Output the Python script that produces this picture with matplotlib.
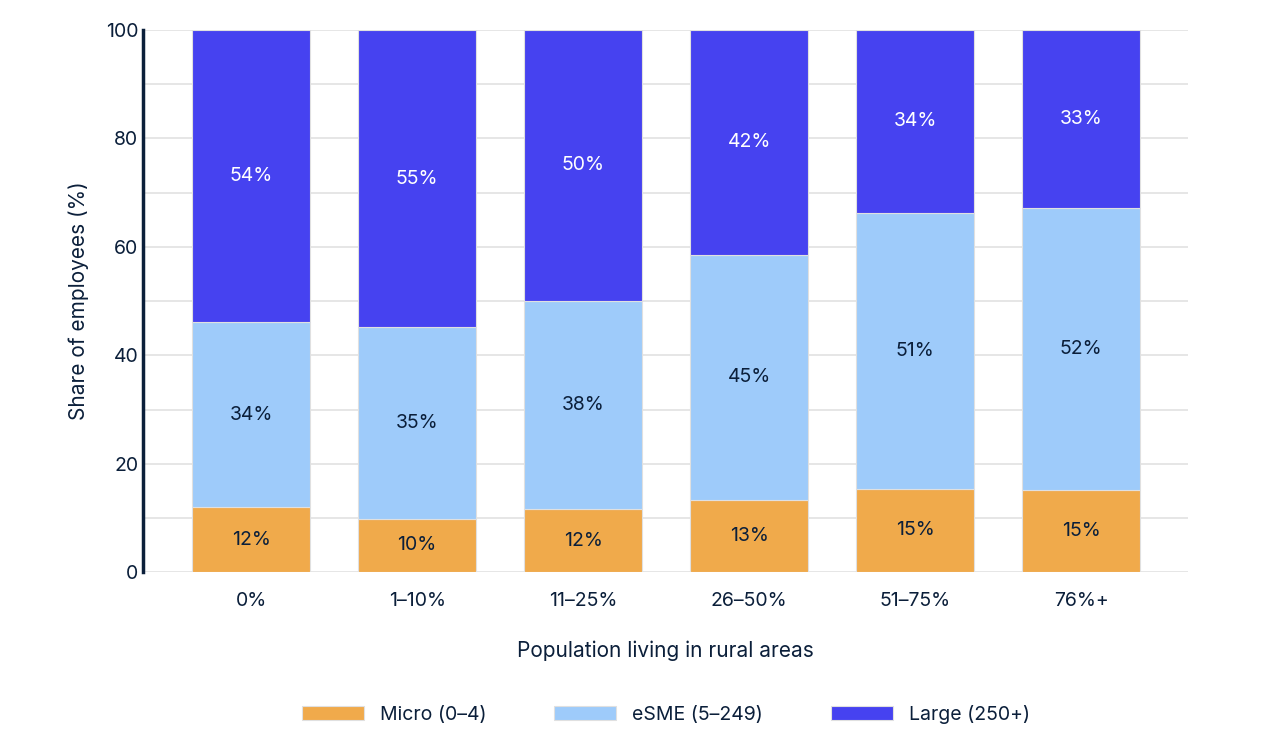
import matplotlib
matplotlib.use("Agg")
import matplotlib.pyplot as plt
import numpy as np

categories = ["0%", "1–10%", "11–25%", "26–50%", "51–75%", "76%+"]
micro = [12.0, 9.9, 11.6, 13.4, 15.4, 15.2]
esme = [34.1, 35.3, 38.5, 45.1, 50.9, 52.0]
large = [100 - m - e for m, e in zip(micro, esme)]
micro_lbl = ["12%", "10%", "12%", "13%", "15%", "15%"]
esme_lbl = ["34%", "35%", "38%", "45%", "51%", "52%"]
large_lbl = ["54%", "55%", "50%", "42%", "34%", "33%"]

navy = "#0b1f3a"
plt.rcParams["font.family"] = ["Inter", "DejaVu Sans"]
fig = plt.figure(figsize=(12.68, 7.48), dpi=100)
ax = fig.add_axes([0.113, 0.235, 0.824, 0.725])
x = np.arange(len(categories))
w = 0.71
b1 = ax.bar(x, micro, w, color="#f0aa4b", edgecolor="#e0e0e0", linewidth=0.8, label="Micro (0–4)", zorder=3)
b2 = ax.bar(x, esme, w, bottom=micro, color="#9ecbfa", edgecolor="#e0e0e0", linewidth=0.8, label="eSME (5–249)", zorder=3)
bot = [m + e for m, e in zip(micro, esme)]
b3 = ax.bar(x, large, w, bottom=bot, color="#4642f0", edgecolor="#e0e0e0", linewidth=0.8, label="Large (250+)", zorder=3)
for bars, lbls, col in [(b1, micro_lbl, navy), (b2, esme_lbl, navy), (b3, large_lbl, "white")]:
    ax.bar_label(bars, labels=lbls, label_type="center", color=col, fontsize=14)

ax.set_xlim(-0.65, 5.645)
ax.set_ylim(0, 100)
ax.set_yticks(range(0, 101, 20))
ax.set_yticks(range(0, 101, 10), minor=True)
ax.grid(axis="y", which="both", color="#e2e2e2", linewidth=1.2, zorder=0)
ax.set_xticks(x, categories)
ax.tick_params(axis="both", length=0, labelsize=14, colors=navy)
ax.tick_params(axis="y", which="minor", length=0)
ax.tick_params(axis="x", pad=14)
for s in ["top", "right", "bottom"]:
    ax.spines[s].set_visible(False)
ax.spines["left"].set_color(navy)
ax.spines["left"].set_linewidth(2.5)
ax.set_ylabel("Share of employees (%)", fontsize=15, color=navy, labelpad=12)
ax.set_xlabel("Population living in rural areas", fontsize=15, color=navy, labelpad=22)
fig.legend(handles=[b1, b2, b3], loc="center", bbox_to_anchor=(0.525, 0.045), ncol=3,
           frameon=False, fontsize=14, labelcolor=navy, handlelength=3.2, columnspacing=3.5)
fig.savefig("out.png", dpi=100)
